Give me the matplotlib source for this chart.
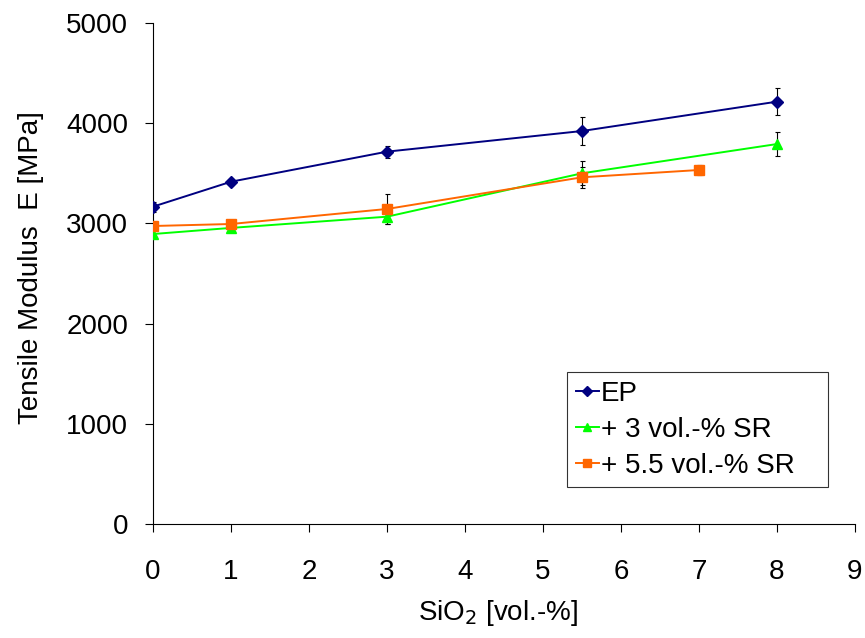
import numpy as np
import matplotlib.pyplot as plt

plt.rcParams['font.family'] = ['Liberation Sans', 'DejaVu Sans']

# data
x_ep = [0, 1, 3, 5.5, 8]
E_ep = [3167, 3416, 3716, 3922, 4215]
err_ep = [50, 30, 60, 135, 135]

x_sr3 = [0, 1, 3, 5.5, 8]
E_sr3 = [2894, 2955, 3067, 3500, 3792]
err_sr3 = [40, 30, 75, 120, 120]

x_sr55 = [0, 1, 3, 5.5, 7]
E_sr55 = [2974, 2994, 3144, 3460, 3533]
err_sr55 = [30, 25, 145, 105, 45]

fig = plt.figure(figsize=(8.65, 6.38), dpi=100)
ax = fig.add_axes([153/865, (638-524)/638, 702/865, 501/638])

series = [
    (x_ep, E_ep, err_ep, '#000080', 'D', 'EP', 6),
    (x_sr3, E_sr3, err_sr3, '#00FF00', '^', '+ 3 vol.-% SR', 7),
    (x_sr55, E_sr55, err_sr55, '#FF6600', 's', '+ 5.5 vol.-% SR', 6.5),
]
for xs, ys, es, col, mk, lab, ms in series:
    ax.errorbar(xs, ys, yerr=es, fmt='none', ecolor='black', elinewidth=0.8,
                capsize=1.8, capthick=0.8, zorder=2)
    ax.plot(xs, ys, color=col, marker=mk, markersize=ms, lw=1.4,
            label=lab, zorder=3)

ax.set_xlim(0, 9)
ax.set_ylim(0, 5000)
ax.set_xticks(range(0, 10))
ax.set_yticks(range(0, 5001, 1000))
ax.spines['top'].set_visible(False)
ax.spines['right'].set_visible(False)
ax.tick_params(labelsize=20, direction='out', length=6, width=0.8)
ax.tick_params(axis='x', pad=19)
ax.tick_params(axis='y', pad=12)
ax.set_xlabel('SiO$_2$ [vol.-%]', fontsize=20)
ax.set_ylabel('Tensile Modulus  E [MPa]', fontsize=20)
ax.xaxis.set_label_coords(0.491, -0.148)
ax.yaxis.set_label_coords(-0.155, 0.512)

leg = ax.legend(loc='upper left', bbox_to_anchor=(0.59, 0.0, 0.372, 0.303),
                mode='expand', fontsize=20, frameon=True, fancybox=False,
                edgecolor='black', handlelength=0.85, handletextpad=0.05,
                borderaxespad=0, labelspacing=0.37, borderpad=0.3,
                markerscale=0.9)
leg.get_frame().set_linewidth(0.8)

fig.savefig('out.png', dpi=100)
